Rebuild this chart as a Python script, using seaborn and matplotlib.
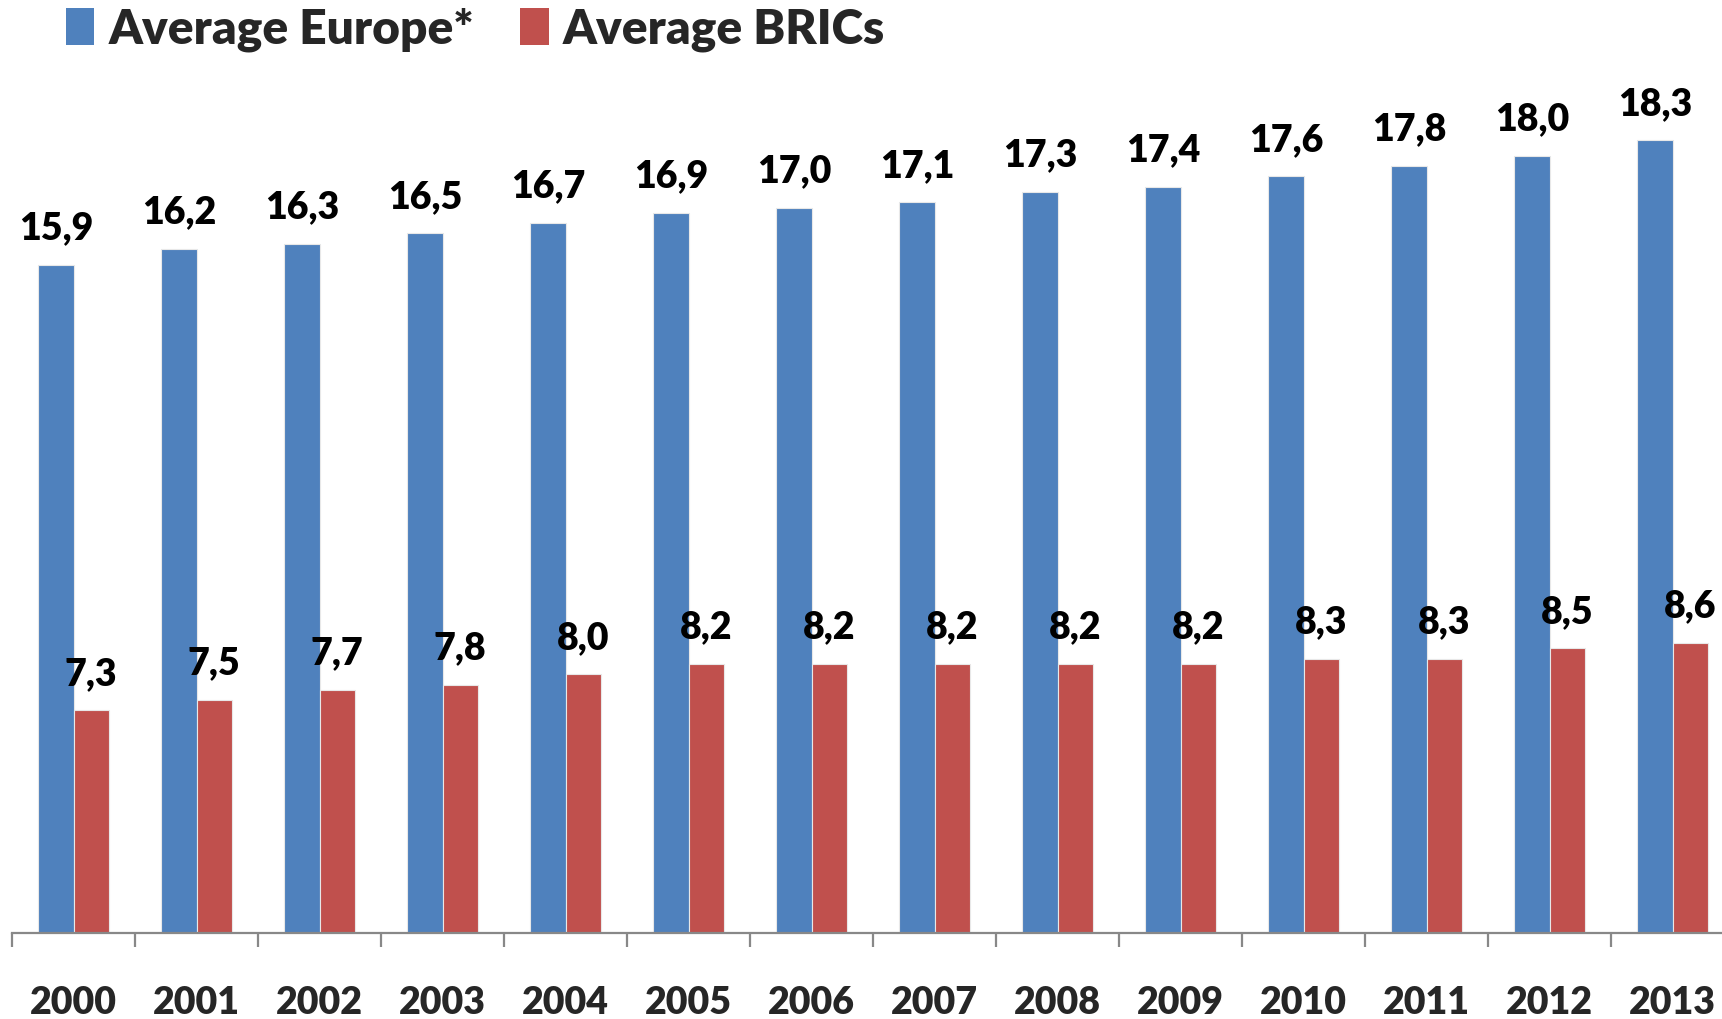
import numpy as np
import pandas as pd
import seaborn as sns
import matplotlib.pyplot as plt
from matplotlib.patches import Patch
from matplotlib.ticker import FixedLocator

years = ['2000', '2001', '2002', '2003', '2004', '2005', '2006',
         '2007', '2008', '2009', '2010', '2011', '2012', '2013']
europe = [15.9, 16.2, 16.3, 16.5, 16.7, 16.9, 17.0, 17.1, 17.3, 17.4, 17.6, 17.8, 18.0, 18.3]
brics = [7.3, 7.5, 7.7, 7.8, 8.0, 8.2, 8.2, 8.2, 8.2, 8.2, 8.3, 8.3, 8.5, 8.6]
series_names = ['Average Europe*', 'Average BRICs']
colors = ['#4F81BD', '#C0504D']

df = pd.DataFrame({
    'year': years * 2,
    'value': europe + brics,
    'series': [series_names[0]] * len(years) + [series_names[1]] * len(years),
})

sns.set_style('white')
plt.rcParams['font.family'] = ['Lato', 'DejaVu Sans']

fig = plt.figure(figsize=(17.22, 10.19), dpi=100)
ax = fig.add_axes([0.007, 0.084, 1.0, 0.865])

sns.barplot(data=df, x='year', y='value', hue='series', palette=colors, saturation=1,
            width=0.575, edgecolor='#e8e8e8', linewidth=0.8, ax=ax, legend=False)

ax.set_ylim(3, 20)
ax.set_xlim(-0.5, len(years) - 0.5)

# value labels with decimal comma
for cont, vals in zip(ax.containers, [europe, brics]):
    ax.bar_label(cont, labels=[f'{v:.1f}'.replace('.', ',') for v in vals],
                 padding=14, fontsize=27, fontweight='heavy', color='black')

for side in ['top', 'right', 'left']:
    ax.spines[side].set_visible(False)
ax.spines['bottom'].set_color('#888888')
ax.spines['bottom'].set_linewidth(1.6)
ax.set_yticks([])
ax.set_xlabel('')
ax.set_ylabel('')

ax.tick_params(axis='x', which='major', bottom=False, length=0, pad=38, labelsize=27)
for lbl in ax.get_xticklabels():
    lbl.set_fontweight('heavy')
ax.xaxis.set_minor_locator(FixedLocator(np.arange(-0.5, len(years), 1.0)))
ax.tick_params(axis='x', which='minor', bottom=True, length=10, width=1.6,
               color='#888888', direction='out')

handles = [Patch(facecolor=c, edgecolor='none') for c in colors]
fig.legend(handles, series_names, loc='upper left', bbox_to_anchor=(0.013, 1.035),
           ncol=2, frameon=False, prop={'size': 34.5, 'weight': 'heavy'},
           handlelength=0.6, handleheight=0.8, handletextpad=0.3, columnspacing=0.95)

fig.savefig('out.png', dpi=100)
